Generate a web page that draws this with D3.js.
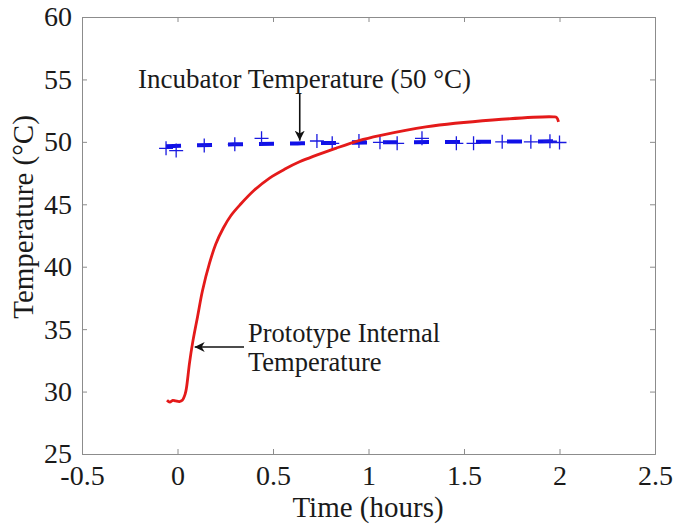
<!DOCTYPE html>
<html><head><meta charset="utf-8">
<script src="https://cdn.jsdelivr.net/npm/d3@7"></script>
<style>body{margin:0;background:#fff}svg{display:block}text{font-family:"Liberation Serif","Times New Roman",serif;fill:#1a1a1a}</style>
</head><body><svg id="c" width="686" height="527"></svg>
<script>
const xTicks = [-0.5, 0, 0.5, 1, 1.5, 2, 2.5];
const xTickLabels = ["-0.5", "0", "0.5", "1", "1.5", "2", "2.5"];
const yTicks = [25, 30, 35, 40, 45, 50, 55, 60];
const yTickLabels = ["25", "30", "35", "40", "45", "50", "55", "60"];

// Prototype internal temperature (red curve)
const protoTime = [-0.055,-0.04,-0.025,-0.01,0.01,0.025,0.04,0.047,0.063,0.079,0.105,0.131,0.168,0.2,0.24,0.28,0.33,0.4,0.482,0.56,0.639,0.832,0.95,1.058,1.3,1.65,1.97,1.985,1.995];
const protoTemp = [29.3,29.15,29.3,29.25,29.2,29.3,29.8,30.3,32.3,33.9,36.0,38.1,40.3,41.8,43.1,44.1,45.0,46.1,47.1,47.8,48.4,49.5,50.1,50.5,51.2,51.75,52.0,51.95,51.6];

// Incubator temperature measurements ('+' markers)
const incTime = [-0.06,-0.007,0.14,0.30,0.44,0.73,0.81,0.95,1.06,1.15,1.28,1.46,1.55,1.70,1.85,1.95,2.0];
const incTemp = [49.48,49.3,49.7,49.8,50.28,50.07,49.88,50.07,49.96,49.88,50.28,49.88,49.88,50.0,50.0,50.05,49.95];

// Incubator temperature trend (dashed line)
const trendTime = [-0.06,0.3,0.65,1.0,1.5,2.05];
const trendTemp = [49.65,49.8,49.88,49.95,50.0,50.05];

const labels = {x: "Time (hours)", y: "Temperature (°C)", inc: "Incubator Temperature (50 °C)", proto1: "Prototype Internal", proto2: "Temperature"};

const svg = d3.select("#c");
const L = 82, R = 655, T = 17, B = 454;
const x = d3.scaleLinear().domain([-0.5, 2.5]).range([L, R]);
const y = d3.scaleLinear().domain([25, 60]).range([B, T]);
const boxColor = "#8c8c8c";

svg.append("defs").append("marker").attr("id","ah").attr("viewBox","0 0 10 10")
  .attr("refX",10).attr("refY",5).attr("markerWidth",10).attr("markerHeight",10).attr("markerUnits","userSpaceOnUse")
  .attr("orient","auto").append("path").attr("d","M0,0 L10,5 L0,10 L3,5 Z").attr("fill","#111");

const tl = 5;
const axB = d3.axisBottom(x).tickValues(xTicks).tickFormat((d,i)=>xTickLabels[i]).tickSize(-tl).tickPadding(11);
const axT = d3.axisTop(x).tickValues(xTicks).tickFormat("").tickSize(-tl);
const axLft = d3.axisLeft(y).tickValues(yTicks).tickFormat((d,i)=>yTickLabels[i]).tickSize(-tl).tickPadding(10);
const axRt = d3.axisRight(y).tickValues(yTicks).tickFormat("").tickSize(-tl);
function style(g){ g.select(".domain").attr("stroke",boxColor); g.selectAll(".tick line").attr("stroke",boxColor);
  g.selectAll("text").attr("font-size",28).attr("fill","#1a1a1a").style("font-family","'Liberation Serif',serif"); }
svg.append("g").attr("transform",`translate(0,${B})`).call(axB).call(style);
svg.append("g").attr("transform",`translate(0,${T})`).call(axT).call(style);
svg.append("g").attr("transform",`translate(${L},0)`).call(axLft).call(style);
svg.append("g").attr("transform",`translate(${R},0)`).call(axRt).call(style);

// dashed trend
const trend = trendTime.map((t,i)=>[t,trendTemp[i]]);
svg.append("path").datum(trend).attr("fill","none").attr("stroke","#1010e8").attr("stroke-width",4)
  .attr("stroke-dasharray","15,16")
  .attr("d", d3.line().x(d=>x(d[0])).y(d=>y(d[1])).curve(d3.curveMonotoneX));

// plus markers
const ms = 7;
svg.append("g").selectAll("path").data(incTime.map((t,i)=>[t,incTemp[i]])).join("path")
  .attr("d", d=>`M${x(d[0])-ms},${y(d[1])}H${x(d[0])+ms}M${x(d[0])},${y(d[1])-ms}V${y(d[1])+ms}`)
  .attr("stroke","#1a1ae0").attr("stroke-width",1.3).attr("fill","none");

// red curve
const proto = protoTime.map((t,i)=>[t,protoTemp[i]]);
svg.append("path").datum(proto).attr("fill","none").attr("stroke","#e41a1a").attr("stroke-width",2.8)
  .attr("stroke-linejoin","round")
  .attr("d", d3.line().x(d=>x(d[0])).y(d=>y(d[1])).curve(d3.curveCatmullRom.alpha(0.5)));

// axis titles
svg.append("text").attr("x",368).attr("y",517).attr("text-anchor","middle").attr("font-size",29).text(labels.x);
svg.append("text").attr("transform",`translate(33,217) rotate(-90)`).attr("text-anchor","middle").attr("font-size",29).text(labels.y);

// annotations
svg.append("text").attr("x",138).attr("y",88).attr("font-size",27).text(labels.inc);
svg.append("line").attr("x1",x(0.64)).attr("x2",x(0.64)).attr("y1",93).attr("y2",y(50.1)).attr("stroke","#111").attr("stroke-width",1.6).attr("marker-end","url(#ah)");
svg.append("text").attr("x",248).attr("y",342).attr("font-size",26.5).text(labels.proto1);
svg.append("text").attr("x",248).attr("y",371).attr("font-size",26.5).text(labels.proto2);
svg.append("line").attr("x1",244).attr("x2",x(0.09)).attr("y1",347).attr("y2",347).attr("stroke","#111").attr("stroke-width",1.6).attr("marker-end","url(#ah)");
</script></body></html>
